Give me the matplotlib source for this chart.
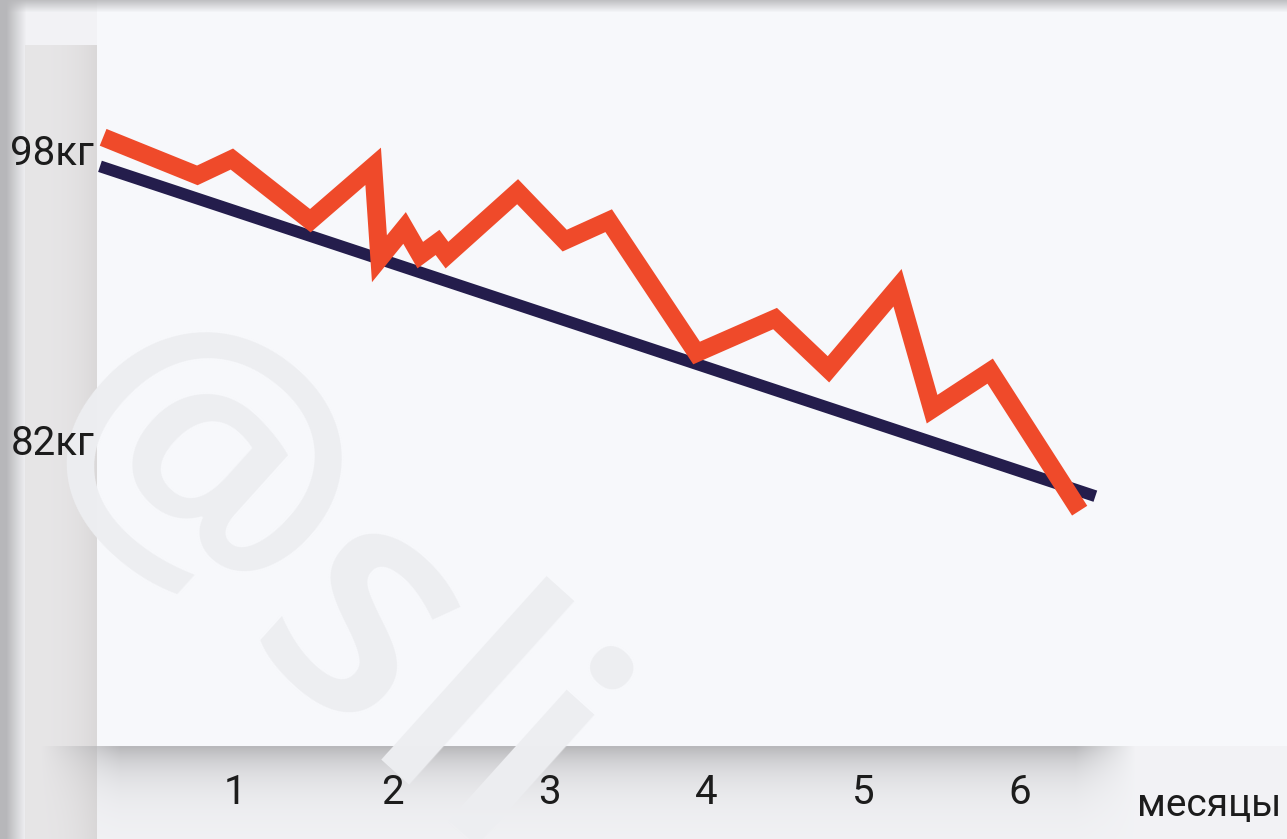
import numpy as np
import matplotlib
matplotlib.use("Agg")
import matplotlib.pyplot as plt

plt.rcParams['font.family'] = ['Roboto', 'DejaVu Sans']

# ---- data ----
weight_months = [0.16, 0.76, 0.98, 1.48, 1.88, 1.92, 2.08, 2.18, 2.29, 2.35,
                 2.80, 3.10, 3.38, 3.94, 4.44, 4.78, 5.22, 5.44, 5.81, 6.38]
weight_kg = [98.7, 96.6, 97.5, 94.1, 97.1, 92.0, 93.7, 92.2, 92.9, 92.2,
             95.7, 93.0, 94.1, 86.8, 88.7, 85.9, 90.4, 83.7, 85.8, 78.1]
trend_months = [0.14, 6.48]
trend_kg = [97.1, 78.9]
x_ticks = [1, 2, 3, 4, 5, 6]
x_tick_labels = ["1", "2", "3", "4", "5", "6"]
y_ticks = [98, 82]
y_tick_labels = ["98кг", "82кг"]
x_axis_label = "месяцы"
watermark = "@sli"

# ---- figure ----
W, H = 1287, 839
fig = plt.figure(figsize=(W / 100, H / 100), dpi=100)

# background decoration (paper, wall shadow, floor shadow)
bg = fig.add_axes([0, 0, 1, 1], zorder=-1)
bg.set_axis_off()
yy, xx = np.mgrid[0:H, 0:W].astype(float)
img = np.ones((H, W, 3)) * (np.array([247, 248, 251]) / 255.0)


def blend(mask, color):
    m = np.clip(mask, 0, 1)[..., None]
    img[:] = img * (1 - m) + np.array(color)[None, None, :] * m


outer = ((xx < 97) | (yy > 745)).astype(float) * 0.5
blend(outer, (0.93, 0.93, 0.94))
blend((12 - yy) / 12 * 0.8, (0.70, 0.70, 0.71))
blend(((26 - xx) / 18) * 0.9, (0.72, 0.72, 0.73))
wall = ((xx >= 25) & (xx < 97) & (yy >= 45)).astype(float)
wall_col_mask = wall * (0.35 + 0.65 * np.clip((xx - 25) / 72, 0, 1) ** 3)
blend(wall_col_mask * 0.8, (0.80, 0.79, 0.79))
blend(wall * 0.35, (0.90, 0.89, 0.89))
floor = np.exp(-np.clip(yy - 747, 0, None) / 26.0) * (yy >= 746)
floor = floor * np.clip((1135 - xx) / 60, 0, 1) * np.clip((xx - 40) / 80, 0, 1)
blend(floor * 0.9, (0.70, 0.70, 0.71))
bg.imshow(img, extent=[0, W, H, 0], aspect='auto', interpolation='bilinear')
bg.set_xlim(0, W)
bg.set_ylim(H, 0)

# faint watermark
bg.text(312, 600, watermark, fontsize=235, color='#edeef1', rotation=-42,
        rotation_mode='anchor', ha='center', va='center', fontweight='semibold',
        family=['Open Sans', 'DejaVu Sans'])

# main axes
ax = fig.add_axes([97 / W, (H - 745) / H, (W - 97) / W, (745 - 10) / H])
ax.set_facecolor('none')
ax.set_xlim((97 - 78) / 157, (1287 - 78) / 157)
ax.set_ylim(98 - (745 - 150) / 18.125, 98 + (150 - 10) / 18.125)
for s in ax.spines.values():
    s.set_visible(False)

ax.plot(trend_months, trend_kg, color='#241d4c', lw=8.5,
        solid_capstyle='butt', zorder=2, clip_on=False)
ax.plot(weight_months, weight_kg, color='#ef4a2a', lw=13,
        solid_joinstyle='miter', solid_capstyle='butt', zorder=3, clip_on=False)

ax.set_xticks(x_ticks, labels=x_tick_labels)
ax.set_yticks(y_ticks, labels=y_tick_labels)
ax.tick_params(axis='x', length=0, pad=20, labelsize=29, labelcolor='#1c1c1c')
ax.tick_params(axis='y', length=0, pad=2, labelsize=29, labelcolor='#1c1c1c')

fig.text(1281 / W, 1 - 806 / H, x_axis_label, fontsize=28, color='#1c1c1c',
         ha='right', va='center')

fig.savefig("out.png", dpi=100)
